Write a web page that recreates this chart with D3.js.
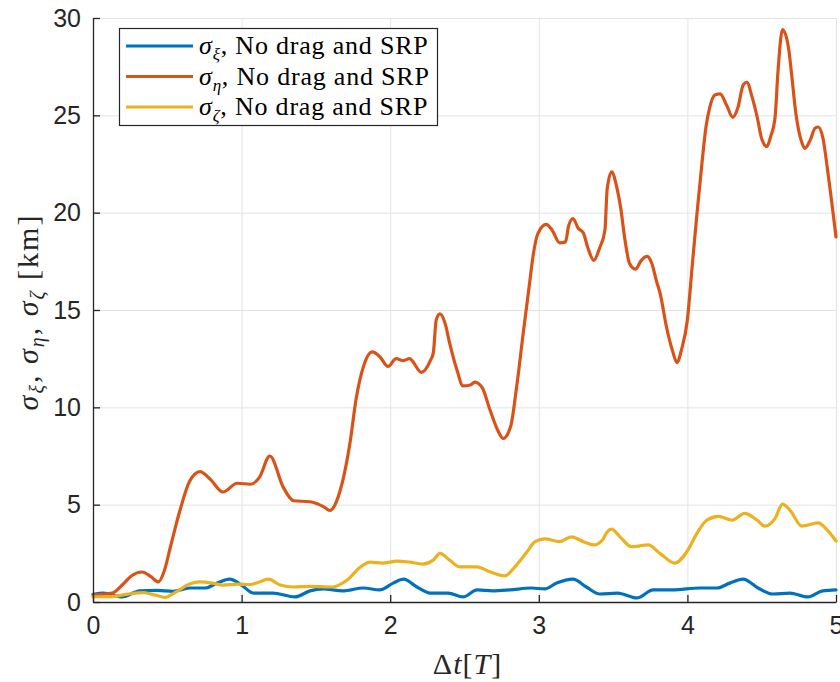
<!DOCTYPE html>
<html>
<head>
<meta charset="utf-8">
<script src="https://cdn.jsdelivr.net/npm/d3@7"></script>
<style>
  body { margin: 0; background: #fff; }
  svg { display: block; }
</style>
</head>
<body>
<svg id="chart" width="840" height="682"></svg>
<script>
// Standard deviation of the relative position components over time (units of T)
const tXi = [0, 0.07, 0.195, 0.315, 0.43, 0.54, 0.65, 0.755, 0.835, 0.92, 1.0, 1.08, 1.21, 1.36, 1.46, 1.55, 1.68, 1.82, 1.93, 2.02, 2.09, 2.18, 2.27, 2.39, 2.49, 2.585, 2.69, 2.805, 2.95, 3.04, 3.12, 3.23, 3.32, 3.41, 3.53, 3.66, 3.77, 3.9, 4.085, 4.2, 4.285, 4.375, 4.475, 4.575, 4.69, 4.81, 4.91, 5.0];
const sigmaXi = [0.4, 0.46, 0.26, 0.57, 0.6, 0.55, 0.72, 0.72, 0.97, 1.17, 0.87, 0.46, 0.46, 0.26, 0.57, 0.67, 0.57, 0.72, 0.62, 0.97, 1.17, 0.77, 0.46, 0.46, 0.26, 0.62, 0.57, 0.62, 0.72, 0.67, 0.97, 1.17, 0.77, 0.41, 0.46, 0.21, 0.62, 0.62, 0.72, 0.72, 0.97, 1.17, 0.72, 0.41, 0.46, 0.26, 0.57, 0.62];

const tEta = [0, 0.13, 0.2, 0.26, 0.33, 0.39, 0.44, 0.48, 0.52, 0.585, 0.65, 0.72, 0.79, 0.875, 0.97, 1.06, 1.12, 1.19, 1.28, 1.35, 1.46, 1.55, 1.595, 1.65, 1.73, 1.77, 1.82, 1.88, 1.93, 1.985, 2.04, 2.09, 2.13, 2.21, 2.27, 2.29, 2.31, 2.335, 2.37, 2.4, 2.45, 2.49, 2.54, 2.57, 2.62, 2.67, 2.725, 2.76, 2.81, 2.85, 2.895, 2.94, 2.96, 2.995, 3.05, 3.09, 3.14, 3.18, 3.2, 3.23, 3.265, 3.3, 3.33, 3.37, 3.41, 3.445, 3.46, 3.49, 3.525, 3.55, 3.58, 3.61, 3.65, 3.69, 3.73, 3.76, 3.795, 3.815, 3.86, 3.9, 3.93, 3.96, 4.0, 4.03, 4.065, 4.1, 4.125, 4.15, 4.185, 4.22, 4.265, 4.305, 4.34, 4.375, 4.4, 4.435, 4.47, 4.5, 4.535, 4.56, 4.59, 4.61, 4.64, 4.68, 4.7, 4.73, 4.77, 4.79, 4.825, 4.86, 4.88, 4.91, 4.95, 5.0];
const sigmaEta = [0.36, 0.46, 0.9, 1.35, 1.54, 1.3, 1.03, 1.6, 2.8, 4.7, 6.2, 6.7, 6.3, 5.65, 6.1, 6.05, 6.4, 7.5, 5.9, 5.2, 5.15, 4.9, 4.7, 5.4, 8.2, 10.4, 12.1, 12.85, 12.6, 12.1, 12.5, 12.4, 12.5, 11.8, 12.4, 12.8, 14.5, 14.8, 14.3, 13.3, 11.9, 11.1, 11.15, 11.3, 11.0, 9.9, 8.8, 8.4, 9.0, 11.0, 13.8, 16.5, 17.7, 18.95, 19.4, 19.1, 18.45, 18.5, 19.3, 19.7, 19.2, 18.95, 18.2, 17.55, 18.2, 19.1, 21.2, 22.1, 21.3, 20.3, 18.6, 17.4, 17.1, 17.55, 17.75, 17.4, 16.4, 15.9, 14.1, 12.9, 12.3, 12.95, 14.5, 17.05, 20.0, 22.7, 24.4, 25.4, 26.05, 26.1, 25.5, 24.9, 25.4, 26.55, 26.7, 25.95, 24.9, 23.8, 23.4, 23.9, 24.9, 27.3, 29.4, 28.5, 27.2, 25.1, 23.6, 23.3, 23.7, 24.35, 24.4, 23.9, 21.8, 18.75];

const tZeta = [0, 0.11, 0.23, 0.34, 0.42, 0.485, 0.56, 0.65, 0.72, 0.81, 0.875, 0.97, 1.06, 1.12, 1.18, 1.26, 1.35, 1.46, 1.61, 1.71, 1.8, 1.865, 1.95, 2.045, 2.13, 2.22, 2.29, 2.335, 2.4, 2.47, 2.585, 2.67, 2.77, 2.85, 2.92, 2.975, 3.04, 3.14, 3.22, 3.3, 3.37, 3.43, 3.46, 3.49, 3.545, 3.625, 3.735, 3.815, 3.915, 3.995, 4.065, 4.13, 4.21, 4.3, 4.385, 4.47, 4.52, 4.59, 4.64, 4.69, 4.77, 4.88, 4.94, 5.0];
const sigmaZeta = [0.27, 0.27, 0.4, 0.48, 0.35, 0.24, 0.52, 0.92, 1.03, 0.96, 0.87, 0.92, 0.9, 1.03, 1.17, 0.87, 0.77, 0.8, 0.77, 1.13, 1.8, 2.05, 2.0, 2.1, 2.05, 1.95, 2.15, 2.5, 2.15, 1.8, 1.8, 1.55, 1.34, 1.9, 2.57, 3.1, 3.24, 3.1, 3.35, 3.1, 2.93, 3.2, 3.6, 3.74, 3.36, 2.84, 2.93, 2.5, 2.0, 2.57, 3.54, 4.2, 4.4, 4.2, 4.55, 4.2, 3.9, 4.3, 5.03, 4.72, 3.9, 4.06, 3.7, 3.13];

const xTicks = [0, 1, 2, 3, 4, 5];
const yTicks = [0, 5, 10, 15, 20, 25, 30];
const subscripts = ["ξ", "η", "ζ"];
const legendSuffix = ", No drag and SRP";
const colors = ["#0072BD", "#D95319", "#EDB120"];

const series = [
  { t: tXi, v: sigmaXi },
  { t: tEta, v: sigmaEta },
  { t: tZeta, v: sigmaZeta }
];

const W = 840, H = 682;
const margin = { left: 93, right: 4, top: 18, bottom: 80 };
const svg = d3.select("#chart");

const x = d3.scaleLinear().domain([0, 5]).range([margin.left, W - margin.right]);
const y = d3.scaleLinear().domain([0, 30]).range([H - margin.bottom, margin.top]);

const axisColor = "#262626";
const sansFont = "'Liberation Sans', Arial, Helvetica, sans-serif";
const serifFont = "'Liberation Serif', 'DejaVu Serif', serif";

// grid
const grid = svg.append("g").attr("stroke", "#e3e3e3").attr("stroke-width", 1);
grid.selectAll("line.gx").data(xTicks).join("line")
  .attr("x1", d => x(d) + 0.5).attr("x2", d => x(d) + 0.5)
  .attr("y1", y(0)).attr("y2", y(30));
grid.selectAll("line.gy").data(yTicks).join("line")
  .attr("x1", x(0)).attr("x2", x(5))
  .attr("y1", d => y(d) + 0.5).attr("y2", d => y(d) + 0.5);

// curves
const line = d3.line()
  .x(d => x(d[0]))
  .y(d => y(d[1]))
  .curve(d3.curveMonotoneX);

const plot = svg.append("g");
series.forEach((s, i) => {
  plot.append("path")
    .datum(s.t.map((t, k) => [t, s.v[k]]))
    .attr("fill", "none")
    .attr("stroke", colors[i])
    .attr("stroke-width", 3.2)
    .attr("stroke-linejoin", "round")
    .attr("stroke-linecap", "round")
    .attr("d", line);
});

// axes (ticks point inward)
const fmt = d3.format("d");
const xAxis = d3.axisBottom(x).tickValues(xTicks).tickFormat(fmt).tickSizeInner(-7).tickSizeOuter(0).tickPadding(14);
const yAxis = d3.axisLeft(y).tickValues(yTicks).tickFormat(fmt).tickSizeInner(-7).tickSizeOuter(0).tickPadding(12);

const gx = svg.append("g").attr("transform", `translate(0,${y(0)})`).call(xAxis);
const gy = svg.append("g").attr("transform", `translate(${x(0)},0)`).call(yAxis);
[gx, gy].forEach(g => {
  g.select(".domain").attr("stroke", axisColor).attr("stroke-width", 1.3);
  g.selectAll(".tick line").attr("stroke", axisColor).attr("stroke-width", 1.3);
  g.selectAll(".tick text").attr("fill", axisColor)
    .style("font-family", sansFont).style("font-size", "25px");
});

// x label: Δt[T]
const xl = svg.append("text")
  .attr("x", (x(0) + x(5)) / 2 + 3).attr("y", 674)
  .attr("text-anchor", "middle")
  .attr("fill", axisColor)
  .style("font-family", serifFont).style("font-size", "30px")
  .style("letter-spacing", "1px");
xl.append("tspan").text("Δ");
xl.append("tspan").attr("font-style", "italic").text("t");
xl.append("tspan").text("[");
xl.append("tspan").attr("font-style", "italic").text("T");
xl.append("tspan").text("]");

// y label: σξ, ση, σζ [km]
const yl = svg.append("text")
  .attr("transform", `translate(38,${(y(0) + y(30)) / 2 + 2}) rotate(-90)`)
  .attr("text-anchor", "middle")
  .attr("fill", axisColor)
  .style("font-family", serifFont).style("font-size", "30px")
  .style("letter-spacing", "2px");
subscripts.forEach((s, i) => {
  yl.append("tspan").attr("font-style", "italic").text("σ");
  yl.append("tspan").attr("font-style", "italic").attr("font-size", "20px").attr("dy", 6).text(s);
  yl.append("tspan").attr("dy", -6).text(i < 2 ? ", " : " [km]");
});

// legend
const lg = svg.append("g");
lg.append("rect")
  .attr("x", 119.5).attr("y", 28.5).attr("width", 318).attr("height", 97)
  .attr("fill", "#fff").attr("stroke", axisColor).attr("stroke-width", 1.2);
subscripts.forEach((s, i) => {
  const cy = 46 + i * 30.5;
  lg.append("line")
    .attr("x1", 126).attr("x2", 193).attr("y1", cy).attr("y2", cy)
    .attr("stroke", colors[i]).attr("stroke-width", 3.2);
  const t = lg.append("text")
    .attr("x", 199).attr("y", cy + 8)
    .attr("fill", "#000")
    .style("font-family", serifFont).style("font-size", "26px")
    .style("letter-spacing", "0.8px");
  t.append("tspan").attr("font-style", "italic").text("σ");
  t.append("tspan").attr("font-style", "italic").attr("font-size", "17px").attr("dy", 6).text(s);
  t.append("tspan").attr("dy", -6).text(legendSuffix);
});
</script>
</body>
</html>
